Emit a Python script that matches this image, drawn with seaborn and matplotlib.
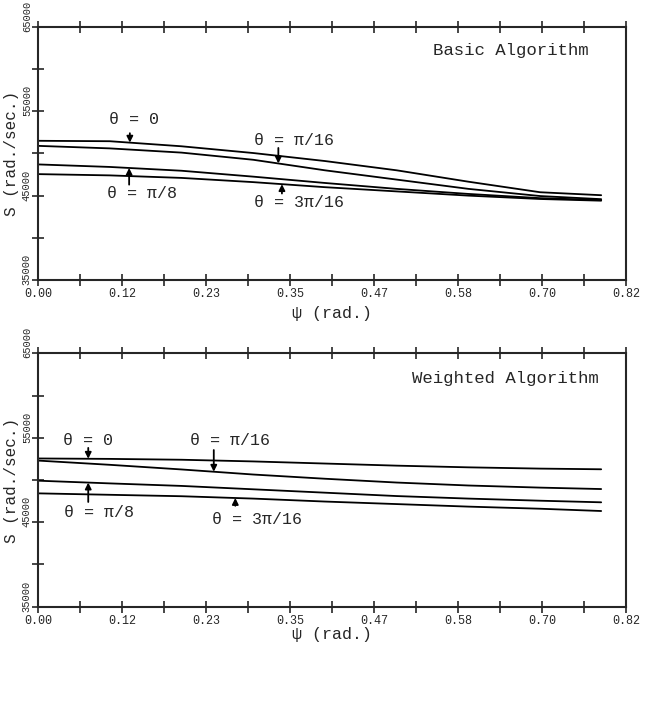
import numpy as np
import pandas as pd
import matplotlib
matplotlib.use("Agg")
import matplotlib.pyplot as plt
import matplotlib.transforms as mtransforms
import seaborn as sns

# psi grid (rad.) used for the read-off values
psi = [0.0, 0.1, 0.2, 0.3, 0.4, 0.5, 0.6, 0.7, 0.785]
theta_names = ["0", "pi/16", "pi/8", "3pi/16"]

# Basic algorithm, S (rad./sec.)
basic_0 = [51500, 51450, 50850, 50050, 49100, 48000, 46650, 45400, 45050]
basic_pi16 = [50900, 50600, 50100, 49250, 48000, 46900, 45800, 44950, 44580]
basic_pi8 = [48700, 48400, 47950, 47250, 46500, 45800, 45200, 44700, 44480]
basic_3pi16 = [47550, 47400, 47100, 46600, 46000, 45500, 45000, 44600, 44400]

# Weighted algorithm, S (rad./sec.)
weighted_0 = [52550, 52500, 52400, 52200, 51950, 51700, 51500, 51350, 51270]
weighted_pi16 = [52300, 51800, 51250, 50650, 50150, 49700, 49350, 49100, 48930]
weighted_pi8 = [49920, 49600, 49300, 48900, 48500, 48100, 47800, 47550, 47360]
weighted_3pi16 = [48420, 48250, 48080, 47800, 47450, 47150, 46850, 46600, 46330]

x_ticks = np.linspace(0, 0.82, 15)
x_labels = ["0.00", "", "0.12", "", "0.23", "", "0.35", "", "0.47", "", "0.58", "", "0.70", "", "0.82"]
y_ticks = np.arange(35000, 65001, 5000)
y_labels = ["35000", "", "45000", "", "55000", "", "65000"]

# (label, text x, text y, arrow x, arrow tail y, curve index)
basic_notes = [
    ("\u03b8 = 0", 0.134, 53970, 0.128, 52400, 0),
    ("\u03b8 = \u03c0/16", 0.357, 51480, 0.335, 50650, 1),
    ("\u03b8 = \u03c0/8", 0.145, 45310, 0.127, 46300, 2),
    ("\u03b8 = 3\u03c0/16", 0.364, 44240, 0.340, 45250, 3),
]
weighted_notes = [
    ("\u03b8 = 0", 0.070, 54620, 0.070, 53800, 0),
    ("\u03b8 = \u03c0/16", 0.268, 54620, 0.245, 53550, 1),
    ("\u03b8 = \u03c0/8", 0.085, 46210, 0.070, 47400, 2),
    ("\u03b8 = 3\u03c0/16", 0.305, 45270, 0.275, 46950, 3),
]

sns.set_style("ticks")
plt.rcParams["font.family"] = ["Liberation Mono", "DejaVu Sans Mono"]


def long_frame(curves):
    rows = []
    for name, vals in zip(theta_names, curves):
        for p, s in zip(psi, vals):
            rows.append({"psi": p, "S": s, "theta": name})
    return pd.DataFrame(rows)


def draw_panel(fig, ax, curves, notes, title, title_pos, xlabelpad):
    df = long_frame(curves)
    sns.lineplot(data=df, x="psi", y="S", hue="theta", palette=["black"] * 4,
                 legend=False, linewidth=1.3, ax=ax)
    ax.set_xlim(0, 0.82)
    ax.set_ylim(35000, 65000)
    ax.set_xticks(x_ticks)
    ax.set_xticklabels(x_labels, fontsize=8.5)
    ax.set_yticks(y_ticks)
    ax.set_yticklabels([])
    # rotated y labels sit a few pixels below their tick, as in the scan
    trans = mtransforms.blended_transform_factory(ax.transAxes, ax.transData) + \
        mtransforms.ScaledTranslation(0, -5 / 100, fig.dpi_scale_trans)
    for val, lab in zip(y_ticks, y_labels):
        ax.text(-0.019, val, lab, transform=trans, rotation=90, ha="center",
                va="bottom", fontsize=7.5, clip_on=False)
    ax.tick_params(axis="x", direction="inout", length=8, width=1.2, top=True, pad=2)
    ax.tick_params(axis="y", direction="inout", length=8, width=1.2, right=False, pad=1)
    for sp in ax.spines.values():
        sp.set_visible(True)
        sp.set_linewidth(1.5)
    ax.set_xlabel("\u03c8 (rad.)", fontsize=12, labelpad=xlabelpad)
    ax.set_ylabel("S (rad./sec.)", fontsize=11.5, labelpad=9)

    for label, tx, ty, ax_x, tail, idx in notes:
        tip = np.interp(ax_x, psi, curves[idx])
        ax.text(tx, ty, label, ha="center", va="center", fontsize=12)
        ax.annotate("", xy=(ax_x, tip), xytext=(ax_x, tail),
                    arrowprops=dict(arrowstyle="-|>", color="black", lw=1.3,
                                    mutation_scale=9, shrinkA=0, shrinkB=0))
    ax.text(title_pos[0], title_pos[1], title, ha="right", va="center", fontsize=12.5)


fig = plt.figure(figsize=(6.5, 7.01), dpi=100)
ax1 = fig.add_axes([0.0585, 0.6006, 0.905, 0.361])
ax2 = fig.add_axes([0.0585, 0.1345, 0.905, 0.3615])

draw_panel(fig, ax1, [basic_0, basic_pi16, basic_pi8, basic_3pi16], basic_notes,
           "Basic Algorithm", (0.768, 62150), 4)
draw_panel(fig, ax2, [weighted_0, weighted_pi16, weighted_pi8, weighted_3pi16], weighted_notes,
           "Weighted Algorithm", (0.781, 61970), 0)

fig.savefig("out.png", dpi=100)
